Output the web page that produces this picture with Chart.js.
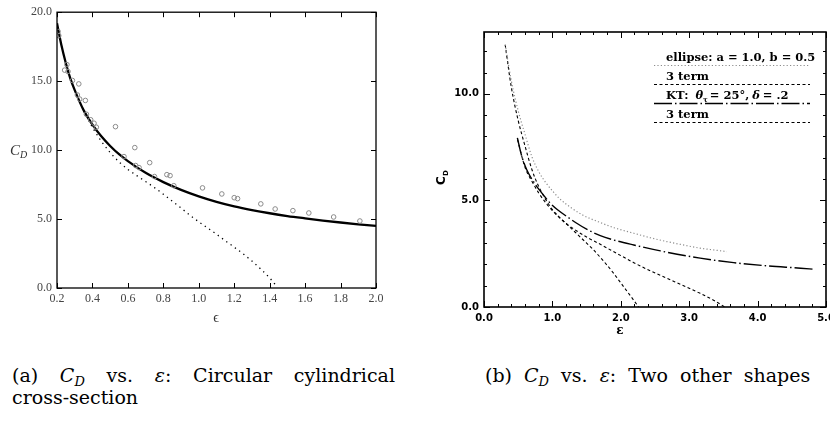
<!DOCTYPE html>
<html>
<head>
<meta charset="utf-8">
<script src="https://cdn.jsdelivr.net/npm/chart.js@4.4.1/dist/chart.umd.min.js"></script>
<style>
  body { margin: 0; width: 830px; height: 422px; overflow: hidden; background: #fff; position: relative; }
  canvas { position: absolute; top: 0; }
  #chartA { left: 0; }
  #chartB { left: 420px; }
  .cap { position: absolute; font-family: "DejaVu Serif", serif; font-size: 19px; line-height: 22px; color: #000; }
  .just { text-align: justify; text-align-last: justify; white-space: nowrap; }
  .cap i { font-style: italic; }
  .cap sub { font-size: 13px; vertical-align: -4px; line-height: 0; }
</style>
</head>
<body>
<canvas id="chartA" width="420" height="340"></canvas>
<canvas id="chartB" width="430" height="345"></canvas>

<div class="cap just" style="left:12px; top:364px; width:383px;">(a) <i>C</i><sub><i>D</i></sub> vs. <i>ε</i>: Circular cylindrical</div>
<div class="cap" style="left:12px; top:386px;">cross-section</div>
<div class="cap" style="left:485px; top:364px; word-spacing:6px;">(b) <i>C</i><sub><i>D</i></sub> vs. <i>ε</i>: Two other shapes</div>

<script>
// ---- panel (a): circular cylindrical cross-section ----
const epsExact = [0.2, 0.225, 0.25, 0.275, 0.3, 0.35, 0.4, 0.45, 0.5, 0.55, 0.6, 0.7, 0.8, 0.9, 1.0, 1.1, 1.2, 1.3, 1.4, 1.5, 1.6, 1.7, 1.8, 1.9, 2.0];
const cdExact = [19.2, 17.6, 16.3, 15.2, 14.35, 12.9, 11.85, 11.0, 10.3, 9.7, 9.2, 8.35, 7.68, 7.12, 6.65, 6.25, 5.92, 5.65, 5.42, 5.22, 5.05, 4.89, 4.75, 4.62, 4.5];

const epsThree = [0.35, 0.4, 0.45, 0.5, 0.55, 0.6, 0.65, 0.7, 0.75, 0.8, 0.85, 0.9, 0.95, 1.0, 1.05, 1.1, 1.15, 1.2, 1.25, 1.3, 1.35, 1.4, 1.44];
const cdThree = [12.85, 11.65, 10.65, 9.82, 9.15, 8.6, 8.15, 7.72, 7.28, 6.8, 6.3, 5.8, 5.28, 4.8, 4.35, 3.9, 3.42, 2.96, 2.48, 1.95, 1.37, 0.73, 0.12];

const epsMeasured = [0.206, 0.21, 0.243, 0.256, 0.262, 0.287, 0.315, 0.323, 0.328, 0.36, 0.366, 0.39, 0.409, 0.422, 0.53, 0.578, 0.639, 0.644, 0.663, 0.723, 0.75, 0.82, 0.838, 0.859, 1.021, 1.13, 1.2, 1.219, 1.35, 1.431, 1.531, 1.621, 1.761, 1.909];
const cdMeasured = [18.6, 18.3, 15.8, 16.2, 15.7, 15.05, 14.0, 14.8, 13.7, 13.6, 12.6, 12.2, 11.95, 11.66, 11.7, 9.53, 10.18, 8.88, 8.73, 9.09, 8.08, 8.22, 8.15, 7.42, 7.26, 6.82, 6.55, 6.48, 6.1, 5.73, 5.61, 5.44, 5.15, 4.86];

const aXTicks = [0.2, 0.4, 0.6, 0.8, 1.0, 1.2, 1.4, 1.6, 1.8, 2.0];
const aYTicks = [0, 5, 10, 15, 20];

// ---- panel (b): two other shapes ----
const bNames = ["ellipse: a = 1.0, b = 0.5", "3 term", "KT: θτ = 25°, δ = .2", "3 term"];

const epsEllipse = [0.31, 0.4, 0.5, 0.6, 0.7, 0.8, 0.9, 1.0, 1.1, 1.28, 1.45, 1.67, 1.9, 2.19, 2.43, 2.67, 2.9, 3.16, 3.35, 3.55];
const cdEllipse = [12.3, 10.6, 9.2, 8.1, 7.05, 6.35, 5.85, 5.45, 5.1, 4.64, 4.3, 4.0, 3.72, 3.46, 3.25, 3.07, 2.92, 2.76, 2.68, 2.6];

const epsEllipse3 = [0.31, 0.4, 0.5, 0.6, 0.7, 0.8, 0.9, 1.0, 1.1, 1.2, 1.3, 1.4, 1.5, 1.6, 1.7, 1.8, 1.9, 2.0, 2.1, 2.2, 2.26];
const cdEllipse3 = [12.3, 10.3, 8.75, 7.55, 6.45, 5.65, 5.05, 4.57, 4.22, 3.92, 3.61, 3.3, 3.0, 2.68, 2.33, 1.96, 1.56, 1.13, 0.7, 0.27, 0.0];

const epsKT = [0.488, 0.55, 0.625, 0.7, 0.77, 0.87, 0.966, 1.08, 1.21, 1.35, 1.5, 1.7, 1.89, 2.19, 2.58, 3.16, 3.65, 4.14, 4.63, 4.82];
const cdKT = [7.93, 7.1, 6.44, 6.0, 5.66, 5.25, 4.88, 4.55, 4.25, 3.94, 3.65, 3.35, 3.15, 2.91, 2.63, 2.29, 2.08, 1.93, 1.82, 1.77];

const epsKT3 = [0.49, 0.6, 0.7, 0.8, 0.9, 1.0, 1.1, 1.2, 1.35, 1.5, 1.7, 1.95, 2.19, 2.43, 2.67, 2.9, 3.16, 3.35, 3.52];
const cdKT3 = [7.85, 6.55, 5.9, 5.35, 4.9, 4.52, 4.2, 3.92, 3.58, 3.28, 2.94, 2.5, 2.08, 1.7, 1.35, 1.02, 0.64, 0.33, 0.0];

const bXTicks = [0, 1, 2, 3, 4, 5];
const bYTicks = [0, 5, 10];

const pts = (xs, ys) => xs.map((x, i) => ({ x: x, y: ys[i] }));

// box + inward ticks on all four sides
const frame = {
  id: "frame",
  afterDatasetsDraw(chart, args, o) {
    const { ctx, chartArea: a } = chart;
    const xs = chart.scales.x, ys = chart.scales.y;
    ctx.save();
    ctx.strokeStyle = "#000";
    ctx.lineWidth = 1;
    ctx.beginPath();
    const xTick = (v, len) => {
      const p = Math.round(xs.getPixelForValue(v)) + 0.5;
      ctx.moveTo(p, a.bottom); ctx.lineTo(p, a.bottom - len);
      ctx.moveTo(p, a.top); ctx.lineTo(p, a.top + len);
    };
    const yTick = (v, len) => {
      const p = Math.round(ys.getPixelForValue(v)) + 0.5;
      ctx.moveTo(a.left, p); ctx.lineTo(a.left + len, p);
      ctx.moveTo(a.right, p); ctx.lineTo(a.right - len, p);
    };
    if (o.xMinor) {
      for (let v = xs.min; v <= xs.max + 1e-9; v += o.xMinor) xTick(v, o.minorLen);
    }
    if (o.yMinor) {
      for (let v = ys.min; v <= ys.max + 1e-9; v += o.yMinor) yTick(v, o.minorLen);
    }
    o.xMajor.forEach((v) => xTick(v, o.majorLen));
    o.yMajor.forEach((v) => yTick(v, o.majorLen));
    ctx.stroke();
    ctx.lineWidth = o.border;
    ctx.strokeRect(a.left, a.top, a.right - a.left, a.bottom - a.top);
    ctx.restore();
  },
};

// axis labels for panel (a)
const labelsA = {
  id: "labelsA",
  afterDraw(chart) {
    const ctx = chart.ctx;
    ctx.save();
    ctx.fillStyle = "#333";
    ctx.textBaseline = "alphabetic";
    ctx.font = 'italic 15px "Liberation Serif", serif';
    ctx.fillText("C", 10, 155);
    ctx.font = 'italic 10px "Liberation Serif", serif';
    ctx.fillText("D", 20, 158);
    ctx.font = '14px "Liberation Serif", serif';
    ctx.textAlign = "center";
    ctx.fillText("ϵ", 216, 322);
    ctx.restore();
  },
};

// axis labels + legend for panel (b)
const legFont = 'bold 11.5px "DejaVu Serif"';
const legFontIt = 'bold italic 11.5px "DejaVu Serif"';
const labelsB = {
  id: "labelsB",
  afterDraw(chart) {
    const ctx = chart.ctx;
    const ds = chart.data.datasets;
    ctx.save();
    ctx.fillStyle = "#000";
    // y label
    ctx.save();
    ctx.translate(25, 180);
    ctx.rotate(-Math.PI / 2);
    ctx.font = 'bold 12px "DejaVu Sans"';
    ctx.fillText("C", -5, 0);
    ctx.font = 'bold 7px "DejaVu Sans"';
    ctx.fillText("D", 4, 3);
    ctx.restore();
    // x label
    ctx.font = 'bold 12px "DejaVu Serif"';
    ctx.textAlign = "center";
    ctx.fillText("ε", 200, 334);
    // legend
    ctx.textAlign = "left";
    const rowText = [61, 80, 99, 118];
    const rowLine = [65.5, 84.5, 103.5, 122.5];
    const tx = 246, l0 = 234, l1 = 390;
    ds.forEach((d, i) => {
      ctx.font = legFont;
      if (i === 2) {
        const y = rowText[i];
        let x = tx;
        const put = (s, font, gap, dy) => {
          ctx.font = font;
          ctx.fillText(s, x, y + (dy || 0));
          x += ctx.measureText(s).width + gap;
        };
        put("KT:", legFont, 7);
        put("θ", legFontIt, 0);
        put("τ", 'bold 7px "DejaVu Serif"', 2, 3);
        put("= 25°,", legFont, 3);
        put("δ", legFontIt, 3);
        put("= .2", legFont, 0);
      } else {
        ctx.fillText(d.label, tx, rowText[i]);
      }
      ctx.save();
      ctx.strokeStyle = d.borderColor;
      ctx.lineWidth = d.borderWidth;
      ctx.setLineDash(d.borderDash);
      ctx.beginPath();
      ctx.moveTo(l0, rowLine[i]);
      ctx.lineTo(l1, rowLine[i]);
      ctx.stroke();
      ctx.restore();
    });
    ctx.restore();
  },
};

const lineBase = { showLine: true, pointRadius: 0, fill: false, cubicInterpolationMode: "monotone" };
const serifFam = '"Liberation Serif", "Times New Roman", serif';

new Chart(document.getElementById("chartA"), {
  type: "scatter",
  data: {
    datasets: [
      { label: "measured", data: pts(epsMeasured, cdMeasured), pointRadius: 2.3, pointBorderWidth: 1,
        borderColor: "#8a8a8a", backgroundColor: "rgba(255,255,255,0)", showLine: false },
      Object.assign({ label: "3 term", data: pts(epsThree, cdThree), borderColor: "#000", borderWidth: 1.3, borderDash: [1.3, 4] }, lineBase),
      Object.assign({ label: "exact", data: pts(epsExact, cdExact), borderColor: "#000", borderWidth: 2.3 }, lineBase),
    ],
  },
  plugins: [frame, labelsA],
  options: {
    responsive: false,
    animation: false,
    layout: { padding: { top: 12, right: 44, left: 0, bottom: 0 } },
    plugins: {
      legend: { display: false },
      tooltip: { enabled: false },
      frame: { xMajor: aXTicks, yMajor: aYTicks, majorLen: 5, minorLen: 0, border: 1.3 },
    },
    scales: {
      x: {
        type: "linear", min: 0.2, max: 2.0,
        afterBuildTicks: (s) => { s.ticks = aXTicks.map((v) => ({ value: v })); },
        afterFit: (s) => { s.height = 52; },
        grid: { display: false, tickLength: 0 }, border: { display: false },
        ticks: { autoSkip: false, maxRotation: 0, padding: 4, color: "#444",
          font: { family: serifFam, size: 12 }, callback: (v) => v.toFixed(1) },
      },
      y: {
        type: "linear", min: 0, max: 20,
        afterBuildTicks: (s) => { s.ticks = aYTicks.map((v) => ({ value: v })); },
        afterFit: (s) => { s.width = 57; },
        grid: { display: false, tickLength: 0 }, border: { display: false },
        ticks: { autoSkip: false, padding: 5, color: "#444",
          font: { family: serifFam, size: 12 }, callback: (v) => v.toFixed(1) },
      },
    },
  },
});

new Chart(document.getElementById("chartB"), {
  type: "scatter",
  data: {
    datasets: [
      Object.assign({ label: bNames[0], data: pts(epsEllipse, cdEllipse), borderColor: "#8c8c8c", borderWidth: 1.2, borderDash: [1.2, 2.2] }, lineBase),
      Object.assign({ label: bNames[1], data: pts(epsEllipse3, cdEllipse3), borderColor: "#000", borderWidth: 1.1, borderDash: [3, 2.5] }, lineBase),
      Object.assign({ label: bNames[2], data: pts(epsKT, cdKT), borderColor: "#000", borderWidth: 1.4, borderDash: [18, 3, 1.5, 3] }, lineBase),
      Object.assign({ label: bNames[3], data: pts(epsKT3, cdKT3), borderColor: "#000", borderWidth: 1.1, borderDash: [3, 2.5] }, lineBase),
    ],
  },
  plugins: [frame, labelsB],
  options: {
    responsive: false,
    animation: false,
    layout: { padding: { top: 32, right: 24, left: 0, bottom: 0 } },
    plugins: {
      legend: { display: false },
      tooltip: { enabled: false },
      frame: { xMajor: bXTicks, yMajor: bYTicks, xMinor: 0.2, yMinor: 1, majorLen: 6, minorLen: 3, border: 1.6 },
    },
    scales: {
      x: {
        type: "linear", min: 0, max: 5,
        afterBuildTicks: (s) => { s.ticks = bXTicks.map((v) => ({ value: v })); },
        afterFit: (s) => { s.height = 38; },
        grid: { display: false, tickLength: 0 }, border: { display: false },
        ticks: { autoSkip: false, maxRotation: 0, padding: 5, color: "#000",
          font: { family: "DejaVu Sans", size: 10, weight: "bold" }, callback: (v) => v.toFixed(1) },
      },
      y: {
        type: "linear", min: 0, max: 12.9,
        afterBuildTicks: (s) => { s.ticks = bYTicks.map((v) => ({ value: v })); },
        afterFit: (s) => { s.width = 64; },
        grid: { display: false, tickLength: 0 }, border: { display: false },
        ticks: { autoSkip: false, padding: 5, color: "#000",
          font: { family: "DejaVu Sans", size: 10, weight: "bold" }, callback: (v) => v.toFixed(1) },
      },
    },
  },
});
</script>
</body>
</html>
